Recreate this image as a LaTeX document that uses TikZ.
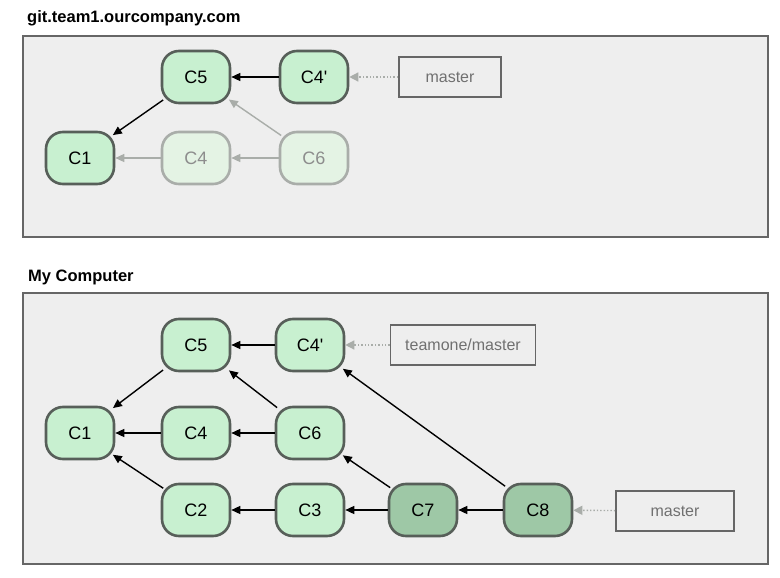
\documentclass[tikz,border=0pt]{standalone}
\usepackage{fontspec}
\setmainfont{Liberation Sans}
\usetikzlibrary{arrows.meta}
\definecolor{panelfill}{HTML}{EEEEEE}
\definecolor{panelline}{HTML}{666666}
\definecolor{commitfill}{HTML}{C8F0D0}
\definecolor{commitline}{HTML}{575F59}
\definecolor{mergefill}{HTML}{9EC8A6}
\definecolor{oldfill}{HTML}{E4F3E4}
\definecolor{oldline}{HTML}{A9ADA9}
\definecolor{reftext}{HTML}{707070}
\begin{document}
\begin{tikzpicture}[x=1pt,y=-1pt,
  panel/.style={draw=panelline,fill=panelfill,line width=1.6pt},
  title/.style={anchor=west,inner sep=0pt,font=\bfseries\fontsize{16.5}{19}\selectfont},
  commit/.style={draw=commitline,fill=commitfill,line width=2.6pt,rounded corners=17pt,
    minimum width=68pt,minimum height=52pt,inner sep=0pt,font=\fontsize{18}{21}\selectfont},
  merge/.style={commit,fill=mergefill},
  oldcommit/.style={commit,draw=oldline,fill=oldfill,text=reftext!80},
  branch/.style={draw=panelline,fill=panelfill,line width=1.6pt,minimum height=40pt,
    inner sep=0pt,text=reftext,font=\fontsize{16}{19}\selectfont},
  parent/.style={-{Triangle[length=9pt,width=8pt]},line width=1.4pt},
  slant/.style={parent,shorten <=-3pt,shorten >=-3pt},
  oldparent/.style={parent,draw=oldline,color=oldline},
  pointer/.style={-{Triangle[length=9pt,width=9pt]},dotted,line width=1.4pt,color=oldline}]
\fill[white] (0,0) rectangle (780,578);
\useasboundingbox (0,0) rectangle (780,578);
% remote server
\node[title] (server) at (27,18) {git.team1.ourcompany.com};
\draw[panel] (23,36) rectangle (768,237);
\node[commit] (s5) at (196,77) {C5};
\node[commit] (s4p) at (314,77) {C4\textquotesingle};
\node[branch,minimum width=102pt] (smaster) at (450,77) {master};
\node[commit] (s1) at (80,158) {C1};
\node[oldcommit] (s4) at (196,158) {C4};
\node[oldcommit] (s6) at (314,158) {C6};
\draw[parent] (s4p) -- (s5);
\draw[slant] (s5) -- (s1);
\draw[oldparent] (s4) -- (s1);
\draw[oldparent] (s6) -- (s4);
\draw[oldparent,shorten <=-3pt,shorten >=-3pt] (s6) -- (s5);
\draw[pointer] (smaster) -- (s4p);
% local repository
\node[title] (local) at (28,277) {My Computer};
\draw[panel] (23,293) rectangle (768,564);
\node[commit] (c5) at (196,345) {C5};
\node[commit] (c4p) at (310,345) {C4\textquotesingle};
\node[branch,minimum width=145pt] (teamone) at (463,345) {teamone/master};
\node[commit] (c1) at (80,433) {C1};
\node[commit] (c4) at (196,433) {C4};
\node[commit] (c6) at (310,433) {C6};
\node[commit] (c2) at (196,510) {C2};
\node[commit] (c3) at (310,510) {C3};
\node[merge] (c7) at (423,510) {C7};
\node[merge] (c8) at (538,510) {C8};
\node[branch,minimum width=118pt] (master) at (675,511) {master};
\draw[parent] (c4p) -- (c5);
\draw[slant] (c5) -- (c1);
\draw[parent] (c4) -- (c1);
\draw[parent] (c6) -- (c4);
\draw[slant] (c6) -- (c5);
\draw[slant] (c2) -- (c1);
\draw[parent] (c3) -- (c2);
\draw[parent] (c7) -- (c3);
\draw[slant] (c7) -- (c6);
\draw[parent] (c8) -- (c7);
\draw[slant] (c8) -- (c4p);
\draw[pointer] (teamone) -- (c4p);
\draw[pointer] (master) -- (c8);
\end{tikzpicture}
\end{document}
